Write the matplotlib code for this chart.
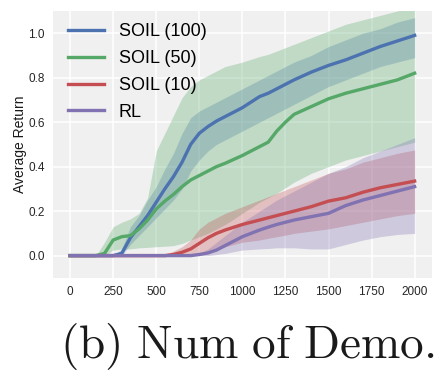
import numpy as np
import matplotlib
matplotlib.use('Agg')
import matplotlib.pyplot as plt

plt.rcParams['font.family'] = ['Liberation Sans', 'DejaVu Sans']
plt.rcParams['mathtext.fontset'] = 'cm'

steps = [0, 100, 150, 200, 250, 300, 350, 400, 450, 500, 550, 600, 650, 700, 750, 800,
         850, 900, 1000, 1100, 1150, 1200, 1250, 1300, 1400, 1500, 1600, 1700, 1800, 1900, 2000]

soil100_mean = [0, 0, 0, 0, 0, 0.01, 0.08, 0.13, 0.18, 0.24, 0.30, 0.355, 0.42, 0.50, 0.55, 0.58,
                0.605, 0.625, 0.665, 0.715, 0.73, 0.75, 0.77, 0.79, 0.825, 0.855, 0.88, 0.91, 0.94, 0.965, 0.99]
soil100_lo = [0, 0, 0, 0, 0, 0, 0.05, 0.09, 0.13, 0.17, 0.21, 0.25, 0.30, 0.38, 0.43, 0.47,
              0.50, 0.52, 0.56, 0.60, 0.62, 0.64, 0.66, 0.68, 0.72, 0.76, 0.79, 0.82, 0.85, 0.87, 0.89]
soil100_hi = [0, 0, 0, 0, 0, 0.03, 0.13, 0.18, 0.25, 0.31, 0.39, 0.46, 0.55, 0.62, 0.65, 0.67,
              0.69, 0.71, 0.75, 0.79, 0.81, 0.83, 0.85, 0.87, 0.90, 0.94, 0.97, 1.00, 1.02, 1.05, 1.07]

soil50_mean = [0, 0, 0, 0.01, 0.07, 0.085, 0.09, 0.12, 0.16, 0.21, 0.245, 0.275, 0.31, 0.34, 0.36, 0.38,
               0.40, 0.415, 0.45, 0.49, 0.51, 0.56, 0.60, 0.635, 0.67, 0.705, 0.73, 0.75, 0.77, 0.79, 0.82]
soil50_lo = [0, 0, 0, 0, 0.025, 0.03, 0.03, 0.035, 0.037, 0.04, 0.042, 0.045, 0.055, 0.07, 0.085, 0.10,
             0.12, 0.14, 0.19, 0.24, 0.26, 0.28, 0.305, 0.33, 0.37, 0.40, 0.43, 0.45, 0.47, 0.49, 0.51]
soil50_hi = [0, 0, 0, 0.06, 0.13, 0.15, 0.165, 0.19, 0.26, 0.47, 0.55, 0.63, 0.71, 0.76, 0.79, 0.81,
             0.83, 0.85, 0.87, 0.895, 0.905, 0.92, 0.935, 0.95, 0.98, 1.01, 1.04, 1.06, 1.08, 1.10, 1.12]

soil10_mean = [0, 0, 0, 0, 0, 0, 0, 0, 0, 0, 0, 0.005, 0.015, 0.03, 0.055, 0.08,
               0.10, 0.115, 0.14, 0.16, 0.17, 0.18, 0.19, 0.20, 0.22, 0.245, 0.26, 0.285, 0.305, 0.32, 0.335]
soil10_lo = [0, 0, 0, 0, 0, 0, 0, 0, 0, 0, 0, 0, 0, 0.005, 0.01, 0.02,
             0.03, 0.04, 0.06, 0.07, 0.078, 0.085, 0.092, 0.10, 0.11, 0.12, 0.135, 0.15, 0.165, 0.18, 0.19]
soil10_hi = [0, 0, 0, 0, 0, 0, 0, 0, 0, 0, 0.005, 0.02, 0.04, 0.07, 0.12, 0.15,
             0.17, 0.19, 0.22, 0.25, 0.265, 0.28, 0.295, 0.31, 0.34, 0.37, 0.39, 0.42, 0.44, 0.46, 0.475]

rl_mean = [0, 0, 0, 0, 0, 0, 0, 0, 0, 0, 0, 0, 0, 0, 0.005, 0.012,
           0.025, 0.045, 0.085, 0.115, 0.128, 0.14, 0.15, 0.16, 0.175, 0.19, 0.225, 0.25, 0.27, 0.29, 0.31]
rl_lo = [0, 0, 0, 0, 0, 0, 0, 0, 0, 0, 0, 0, 0, 0, 0, 0,
         0.005, 0.01, 0.025, 0.03, 0.032, 0.035, 0.035, 0.035, 0.03, 0.03, 0.05, 0.07, 0.085, 0.095, 0.10]
rl_hi = [0, 0, 0, 0, 0, 0, 0, 0, 0, 0, 0, 0, 0, 0.005, 0.01, 0.03,
         0.06, 0.09, 0.15, 0.20, 0.225, 0.25, 0.27, 0.29, 0.33, 0.37, 0.40, 0.44, 0.47, 0.50, 0.53]

labels = ['SOIL (100)', 'SOIL (50)', 'SOIL (10)', 'RL']
colors = ['#4C72B0', '#55A868', '#C44E52', '#8172B2']
means = [soil100_mean, soil50_mean, soil10_mean, rl_mean]
los = [soil100_lo, soil50_lo, soil10_lo, rl_lo]
his = [soil100_hi, soil50_hi, soil10_hi, rl_hi]

fig = plt.figure(figsize=(4.48, 3.77), dpi=100)
ax = fig.add_axes([0.118, 0.263, 0.846, 0.708])
ax.set_facecolor('#F0F0F0')
ax.set_axisbelow(True)
ax.grid(color='white', lw=1.1)
for s in ax.spines.values():
    s.set_visible(False)

for lo, hi, c in zip(los, his, colors):
    ax.fill_between(steps, lo, hi, color=c, alpha=0.3, lw=0)
for m, c, lab in zip(means, colors, labels):
    ax.plot(steps, m, color=c, lw=2.4, label=lab)

ax.set_xlim(-100, 2100)
ax.set_ylim(-0.1, 1.1)
ax.set_xticks(np.arange(0, 2001, 250))
ax.set_yticks([0.0, 0.2, 0.4, 0.6, 0.8, 1.0])
ax.tick_params(length=0, labelsize=8.5, colors='#262626', pad=6)
ax.set_ylabel('Average Return', fontsize=10, color='#1a1a1a')
ax.yaxis.set_label_coords(-0.068, 0.5)

ax.legend(loc='upper left', frameon=False, fontsize=13, handlelength=2.0,
          handletextpad=0.8, labelspacing=0.55, borderaxespad=0.0,
          bbox_to_anchor=(0.021, 0.982))

fig.text(0.552, 0.082, r'$\mathrm{(b)\ Num\ of\ Demo.}$', fontsize=34,
         ha='center', va='center', color='#1a1a1a')

fig.savefig('out.png', dpi=100)
